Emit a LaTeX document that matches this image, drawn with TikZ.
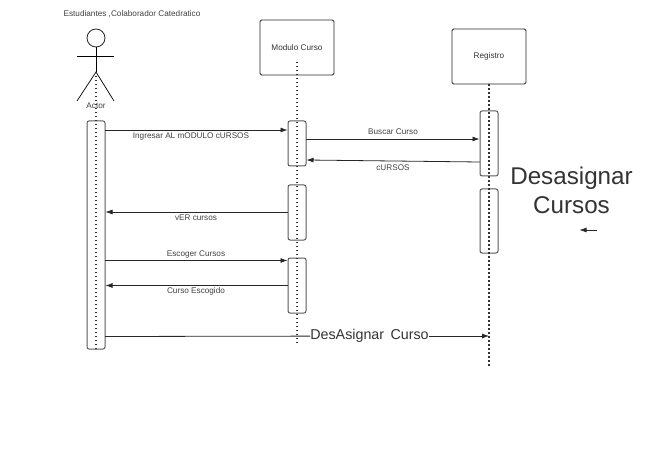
\documentclass[tikz,border=0pt]{standalone}
\usepackage{fontspec}
\setmainfont{Liberation Sans}
\usetikzlibrary{shapes,arrows,arrows.meta}
\tikzstyle{objeto} = [draw=black!85, fill=white, rectangle, rounded corners=1.5pt, line width=0.9pt,
    minimum width=74pt, minimum height=55pt, inner sep=0pt, font=\fontsize{8.2}{9}\selectfont, text=black!80]
\tikzstyle{activa} = [draw=black!65, fill=white, rectangle, rounded corners=2pt, line width=1pt,
    minimum width=18pt, inner sep=0pt]
\tikzstyle{vida} = [line width=1.2pt, dash pattern=on 1.3pt off 2.7pt, black!80]
\tikzstyle{mensaje} = [->, line width=0.8pt, black!85]
\tikzstyle{etiqueta} = [font=\fontsize{8.2}{9}\selectfont, text=black!75, inner sep=1pt]
\tikzstyle{punto} = [coordinate]
\begin{document}
\begin{tikzpicture}[x=1pt,y=-1pt,>={Latex[length=7pt,width=5pt]}]
    \useasboundingbox (0,0) rectangle (663,462);
    % titulo y actor
    \node [etiqueta] (titulo) at (132,14) {Estudiantes ,Colaborador Catedratico};
    \node [draw=black!85, circle, line width=0.8pt, minimum size=18pt, inner sep=0pt] (cabeza) at (96,38) {};
    \node [punto] (cadera) at (96,72) {};
    \node [punto] (brazoi) at (77,56) {};
    \node [punto] (brazod) at (114,56) {};
    \node [punto] (piei) at (77,101) {};
    \node [punto] (pied) at (114,101) {};
    \draw [line width=0.7pt] (cabeza) -- (cadera);
    \draw [line width=0.7pt] (brazoi) -- (brazod);
    \draw [line width=0.7pt] (piei) -- (cadera) -- (pied);
    % objetos
    \node [objeto] at (297,47.5) (modulo) {Modulo Curso};
    \node [objeto] at (489,56.5) (registro) {Registro};
    % activaciones
    \node [activa, minimum height=228pt] at (96,235) (act0) {};
    \node [activa, minimum height=45pt] at (297,143.5) (act1) {};
    \node [activa, minimum height=55pt] at (297,212.5) (act2) {};
    \node [activa, minimum height=55pt] at (297,285.5) (act3) {};
    \node [activa, minimum height=65pt] at (489,143.5) (act4) {};
    \node [activa, minimum height=64pt] at (489,221) (act5) {};
    % lineas de vida
    \node [punto] (fin0) at (96,349) {};
    \node [punto] (ini1) at (297,62) {};
    \node [punto] (fin1) at (297,344) {};
    \node [punto] (fin2) at (489,367) {};
    \draw [vida] (cadera) -- (fin0);
    \draw [vida] (ini1) -- (fin1);
    \draw [vida] (registro) -- (fin2);
    \node [etiqueta] (actor) at (96,105.5) {Actor};
    % mensajes
    \node [punto] (m1a) at (105,130) {};
    \node [punto] (m1b) at (287.5,130) {};
    \node [punto] (m2a) at (306,139) {};
    \node [punto] (m2b) at (479.5,139) {};
    \node [punto] (m3a) at (480,162) {};
    \node [punto] (m3b) at (306.5,160) {};
    \node [punto] (m4a) at (288,212) {};
    \node [punto] (m4b) at (105.5,212) {};
    \node [punto] (m5a) at (105,260.5) {};
    \node [punto] (m5b) at (287.5,260.5) {};
    \node [punto] (m6a) at (288,285.5) {};
    \node [punto] (m6b) at (105.5,285.5) {};
    \node [punto] (m7a) at (105,336.5) {};
    \node [punto] (m7b) at (489,336) {};
    \draw [mensaje] (m1a) -- (m1b);
    \draw [mensaje] (m2a) -- (m2b);
    \draw [mensaje] (m3a) -- (m3b);
    \draw [mensaje] (m4a) -- (m4b);
    \draw [mensaje] (m5a) -- (m5b);
    \draw [mensaje] (m6a) -- (m6b);
    \node [text=black!80, font=\fontsize{14.3}{16}\selectfont, inner sep=0pt] at (369.5,336) (desasignar) {DesAsignar\, Curso};
    \draw [line width=0.8pt, black!85] (m7a) -- (desasignar);
    \draw [mensaje] (desasignar) -- (m7b);
    % textos
    \node [etiqueta] at (191,136) (t1) {Ingresar AL mODULO cURSOS};
    \node [etiqueta] at (393,131.5) (t2) {Buscar Curso};
    \node [etiqueta] at (393,167.5) (t3) {cURSOS};
    \node [etiqueta] at (196,218) (t4) {vER cursos};
    \node [etiqueta] at (196,254) (t5) {Escoger Cursos};
    \node [etiqueta] at (196,291) (t6) {Curso Escogido};
    \node [text=black!80, font=\fontsize{24.2}{29}\selectfont, align=center, inner sep=0pt] at (571.5,190.5) (grande) {Desasignar\\Cursos};
    \node [punto] (f1) at (597,230) {};
    \node [punto] (f2) at (579.5,230) {};
    \draw [mensaje] (f1) -- (f2);
\end{tikzpicture}
\end{document}
